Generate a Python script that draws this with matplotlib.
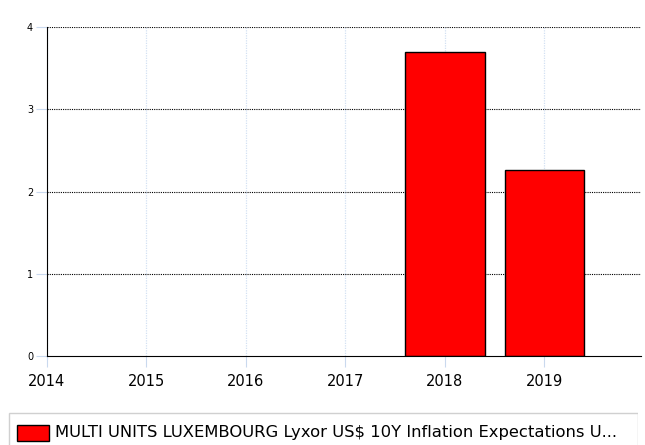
import matplotlib.pyplot as plt
from matplotlib.patches import Rectangle

# data
years = [2014, 2015, 2016, 2017, 2018, 2019]
bar_years = [2018, 2019]
values = [3.70, 2.26]
y_ticks = [0, 1, 2, 3, 4]
series_name = "MULTI UNITS LUXEMBOURG Lyxor US$ 10Y Inflation Expectations U..."

plt.rcParams['font.family'] = ['DejaVu Sans']

fig = plt.figure(figsize=(6.45, 4.45), dpi=100)
W, H = 645, 445
ax = fig.add_axes([47 / W, 1 - 356 / H, (641 - 47) / W, (356 - 27) / H])

ax.bar(bar_years, values, width=0.8, color='#ff0000', edgecolor='black',
       linewidth=1, zorder=3)

ax.set_xlim(2014, 2019.97)
ax.set_ylim(0, 4)
ax.set_xticks(years)
ax.set_xticklabels([str(y) for y in years], fontsize=10.5)
ax.set_yticks(y_ticks)
ax.set_yticklabels([str(v) for v in y_ticks], fontsize=7)

# horizontal grid black dotted, vertical grid light blue
for v in y_ticks[1:]:
    ax.axhline(v, color='black', linestyle=(0, (1, 1)), linewidth=0.8, zorder=1)
ax.grid(axis='x', color='#d3e0f3', linestyle=(0, (1, 1)), linewidth=0.9, zorder=0)

for s in ['top', 'right']:
    ax.spines[s].set_visible(False)
ax.spines['left'].set_color('black')
ax.spines['bottom'].set_color('black')
ax.spines['left'].set_zorder(4)
ax.spines['bottom'].set_zorder(4)
ax.tick_params(axis='y', length=8, color='#c9d9ee', pad=2)
ax.tick_params(axis='x', length=8, color='#c9d9ee', pad=5)

# legend box at the bottom
leg_ax = fig.add_axes([8 / W, 0, (638 - 8) / W, (445 - 412) / H])
leg_ax.set_xlim(0, 630)
leg_ax.set_ylim(0, 33)
leg_ax.axis('off')
leg_ax.add_patch(Rectangle((0.5, -2), 629, 34.5, fill=False, edgecolor='#d0d0d0',
                           linewidth=1))
leg_ax.add_patch(Rectangle((9, 4), 32, 16, facecolor='#ff0000', edgecolor='black',
                           linewidth=1))
leg_ax.text(47, 12, series_name, fontsize=11.8, va='center', ha='left')

fig.savefig('out.png', dpi=100)
